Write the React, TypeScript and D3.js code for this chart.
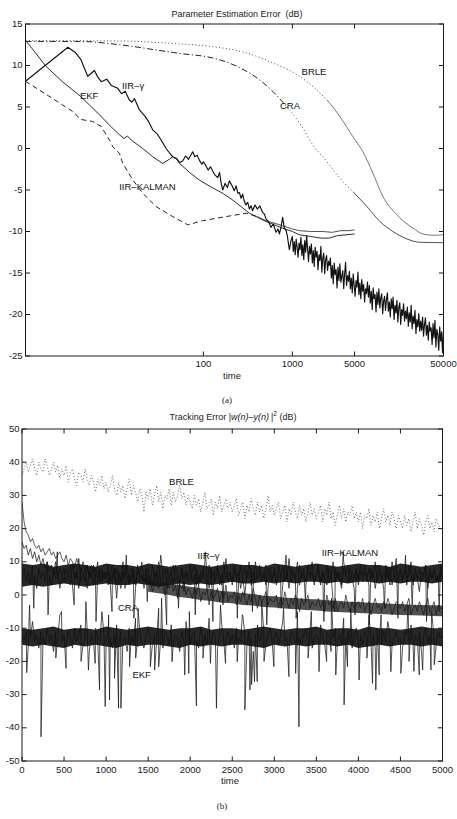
import React from "react";
import * as d3 from "d3";

// ---------- Panel (a): parameter estimation error vs. time (log axis) ----------
const aTimeTicks = [100, 1000, 5000, 50000];
const aTopTicks = [100, 1000, 5000];
const aErrTicks = [15, 10, 5, 0, -5, -10, -15, -20, -25];

// [time, dB]
const ekfA: [number, number][] = [
  [1, 13.05], [1.7, 9.9], [2.6, 8.05], [4.2, 6.25], [6.8, 4.05], [9, 2.7], [11.4, 1.65],
  [12.8, 1.2], [14, 1.5], [15.5, 1.0], [20.8, 0.0], [27, -1.0], [34.9, -1.8], [40, -1.4],
  [45.2, -1.0], [50, -1.3], [54, -1.8], [70, -2.9], [90, -3.8], [120, -4.6], [165, -5.4],
  [213, -6.2], [329, -7.8], [506, -8.8], [778, -9.6], [1000, -10.0], [1200, -10.4],
  [1600, -10.6], [2100, -10.8], [2600, -10.8], [3200, -10.5], [4000, -10.4], [5000, -10.3],
];

const iirKalmanA: [number, number][] = [
  [1, 8.1], [2.0, 6.05], [3.4, 4.45], [4.2, 3.5], [5.7, 3.25], [7.1, 2.65], [8.8, 1.0],
  [9.6, 0.2], [11.4, -0.6], [12.4, -1.8], [16.1, -3.8], [20.8, -5.4], [29.4, -7.0],
  [45.2, -8.2], [66.6, -9.2], [98, -8.7], [180, -8.2], [302, -7.8], [400, -8.2],
  [506, -8.7], [778, -9.3], [1000, -9.7], [1200, -9.9], [1600, -10.0], [2200, -10.0],
  [2800, -10.1], [3500, -9.9], [4200, -9.9], [5000, -9.8],
];

const craA: [number, number][] = [
  [1, 12.9], [4.1, 12.9], [11.5, 12.5], [32.5, 11.8], [54.5, 11.45], [128, 10.9], [238, 9.9],
  [400, 8.5], [606, 6.85], [870, 5.0], [1218, 3.0], [1706, 0.4], [2449, -1.6], [3429, -3.6],
  [4800, -5.2], [6900, -7.0], [9660, -8.8], [13520, -10.0], [19420, -10.9], [27200, -11.3],
  [50000, -11.35],
];

const brleA: [number, number][] = [
  [1, 13.0], [11.5, 12.95], [54.5, 12.6], [128, 12.27], [309, 11.5], [606, 10.3], [1127, 8.9],
  [1706, 7.45], [2449, 5.85], [3429, 3.85], [4800, 1.4], [6220, -0.4], [8060, -3.0],
  [10440, -5.8], [15000, -8.0], [22700, -9.6], [29400, -10.3], [38000, -10.45], [50000, -10.4],
];

// IIR-gamma: early descent as knots, then a long noisy tail
const iirGammaHead: [number, number][] = [
  [1, 8.1], [3, 12.2], [3.6, 11.6], [4.2, 10.7], [5, 8.7], [5.96, 9.4], [6.5, 8.6],
  [7.1, 8.05], [8.2, 8.35], [9.2, 7.6], [10.9, 7.25], [12, 6.6], [13.2, 6.9], [14.7, 5.85],
  [15.7, 5.6], [16.8, 6.0], [19.1, 4.65], [22, 3.9], [24, 3.3], [26.9, 2.25], [30, 1.8],
  [34, 0.9], [38.1, 0.0], [42, -0.6], [45.2, -1.0], [50, -1.2], [54, -1.7], [58.5, -1.5],
  [63, -0.9], [68, -1.3], [75.8, -0.4], [80, -1.0], [85, -0.8], [90, -1.4], [96, -1.9],
  [100, -1.6], [107, -2.1], [113, -2.6], [120, -2.2], [127, -2.7], [135, -3.2], [145, -3.5],
  [152, -2.9], [158, -4.1], [165, -5.0], [175, -4.2], [186, -4.7], [196, -3.9], [210, -4.5],
  [222, -5.1], [233, -4.5], [244, -5.4], [254, -5.3], [265, -6.0], [276, -5.5], [287, -6.3],
  [300, -6.8], [315, -6.5], [329, -7.3], [343, -6.9], [357, -7.5], [380, -6.8], [405, -7.3],
  [430, -6.9], [463, -7.7], [485, -7.9], [506, -8.5], [540, -8.8], [574, -9.5], [610, -9.1],
  [656, -10.1], [690, -9.7], [715, -10.3], [745, -9.5], [778, -8.3], [810, -9.5], [851, -9.9],
  [880, -10.6], [925, -12.2], [960, -11.2],
];
const gammaTailStart = 1000;
const gammaTailEnd = 50000;
const iirGammaTail = [
  -10.6, -12.4, -11.2, -12.8, -10.9, -11.9, -13.1, -11.4, -12.2, -10.7, -12.9, -11.6, -13.4, -11.1, -12.5, -10.5, -12.1, -13.6, -11.8, -12.7,
  -11.5, -13.8, -12.3, -14.2, -11.9, -13.1, -12.4, -14.6, -12.8, -13.5, -11.8, -14.9, -13.2, -12.6, -15.1, -13.4, -12.9, -14.7, -13.6, -14.1,
  -13.2, -15.6, -14.1, -16.3, -13.8, -15.2, -14.6, -16.8, -14.3, -15.9, -13.9, -16.1, -15.4, -14.7, -16.9, -15.1, -13.7, -16.5, -15.3, -16.0,
  -14.8, -16.9, -15.6, -17.4, -15.1, -16.5, -17.8, -15.9, -16.7, -14.9, -17.6, -16.2, -18.1, -15.8, -17.2, -16.4, -18.5, -16.9, -17.5, -16.1,
  -17.9, -16.5, -18.6, -17.2, -19.4, -16.8, -18.1, -17.6, -19.7, -17.3, -18.8, -16.9, -19.2, -18.0, -17.5, -19.9, -18.4, -17.8, -19.5, -18.2,
  -17.4, -19.6, -18.5, -20.3, -18.1, -19.3, -17.9, -20.6, -18.9, -19.8, -18.3, -20.9, -19.1, -18.6, -21.2, -19.4, -20.1, -18.7, -20.8, -19.6,
  -20.5, -19.1, -21.4, -19.8, -20.9, -18.9, -21.7, -20.2, -21.1, -19.5, -22.3, -20.6, -21.5, -19.9, -22.0, -20.8, -21.9, -20.3, -22.6, -21.2,
  -20.4, -22.5, -21.3, -23.1, -20.9, -22.0, -21.6, -23.6, -21.1, -22.8, -20.7, -23.9, -21.8, -22.4, -24.3, -21.5, -23.2, -22.1, -24.6, -22.0,
];

// ---------- Panel (b): tracking error vs. time ----------
const bTimeTicks = [0, 500, 1000, 1500, 2000, 2500, 3000, 3500, 4000, 4500, 5000];
const bErrTicks = [50, 40, 30, 20, 10, 0, -10, -20, -30, -40, -50];
const bandStep = 25; // trace samples every 25 time units, 0..5000
const coreStep = 125; // dense-core envelopes every 125 time units

const brleB = [
  36, 38, 40, 37, 39, 41, 38, 36, 40, 38, 37, 41, 39, 36, 38, 40, 37, 39, 35, 38,
  36, 39, 34, 37, 38, 35, 33, 37, 36, 34, 38, 35, 33, 36, 34, 31, 35, 33, 36, 32,
  34, 31, 33, 36, 32, 30, 34, 31, 33, 29, 32, 35, 30, 33, 31, 28, 32, 30, 25, 31,
  29, 32, 27, 30, 33, 28, 31, 26, 30, 29, 32, 27, 31, 28, 30, 33, 29, 31, 27, 30,
  28, 26, 30, 27, 29, 25, 28, 31, 26, 27, 29, 24, 28, 26, 30, 25, 27, 29, 26, 28,
  25, 27, 29, 24, 26, 28, 23, 27, 25, 29, 26, 24, 28, 25, 27, 23, 26, 30, 25, 27,
  24, 26, 28, 23, 25, 27, 22, 26, 24, 28, 25, 23, 27, 24, 26, 22, 25, 28, 24, 26,
  23, 25, 27, 22, 26, 24, 28, 23, 25, 21, 24, 27, 23, 26, 22, 25, 24, 27, 23, 25,
  22, 25, 20, 24, 23, 26, 21, 24, 22, 25, 20, 23, 26, 22, 24, 21, 25, 23, 20, 24,
  22, 20, 24, 21, 23, 19, 22, 25, 20, 23, 21, 18, 22, 24, 20, 22, 19, 23, 21, 20,
  20,
];

const craB = [
  28, 22, 19, 18, 16, 17, 15, 14, 15, 13, 14, 12, 13, 14, 12, 13, 11, 12, 13, 11,
  10, 12, 9, 11, 10, 8, 11, 9, 7, 10, 8, 9, 6, 9, 7, 8, 5, 7, 8, 6,
  5, 7, 4, 6, 8, 3, 6, 5, 7, 2, 5, 6, 4, 7, 3, 5, 4, 6, 2, 5,
  3, 5, 1, 4, 6, 2, 4, 3, 0, 4, 2, 5, 1, 3, -1, 3, 2, 4, 0, 2,
  1, -1, 2, 0, 3, -2, 1, 0, 2, -3, 1, -1, 0, 2, -2, 1, -1, 3, -2, 0,
  -1, 1, -3, 0, -2, 1, -1, -3, 0, -2, 2, -1, -4, 0, -2, -1, 1, -3, -1, -2,
  -2, 0, -4, -1, -3, 1, -2, -4, -1, -3, 0, -2, -5, -1, -3, -2, 0, -4, -2, -3,
  -3, -1, -4, -2, -5, 0, -3, -2, -4, -1, -5, -3, -2, -4, 0, -3, -5, -2, -4, -3,
  -2, -4, -1, -5, -3, -2, -6, -3, -1, -4, -3, -5, -2, -4, -1, -3, -6, -4, -2, -3,
  -4, -2, -5, -3, -1, -6, -4, -3, -5, -2, -4, -6, -3, -1, -5, -4, -2, -6, -3, -4,
  -4,
];

const iirKalmanB = [
  16, 14, 15, 12, 14, 11, 13, 10, 12, 9, 11, 8, 10, 7, 9, 6, 10, 5, 8, 6,
  4, 8, 6, 3, 9, 5, 7, 2, 8, 6, 4, 9, 5, 7, 3, 6, 10, 4, 7, 5,
  7, 3, 6, 9, 4, 8, 5, 2, 7, 6, 9, 4, 5, 8, 3, 7, 6, 10, 4, 5,
  8, 5, 3, 7, 6, 10, 4, 6, 8, 2, 5, 7, 9, 4, 6, 3, 8, 5, 7, 4,
  5, 7, 9, 3, 6, 4, 8, 6, 2, 9, 5, 7, 4, 8, 6, 3, 10, 5, 7, 6,
  4, 9, 5, 7, 2, 6, 8, 5, 10, 3, 7, 4, 6, 9, 5, 7, 3, 8, 6, 4,
  8, 3, 6, 5, 9, 4, 7, 2, 8, 6, 5, 10, 3, 7, 6, 4, 9, 5, 7, 3,
  6, 9, 4, 7, 5, 3, 8, 6, 10, 4, 7, 5, 2, 8, 6, 9, 4, 7, 5, 8,
  3, 7, 6, 9, 4, 8, 5, 7, 2, 6, 9, 4, 7, 5, 8, 3, 10, 6, 4, 7,
  7, 4, 8, 5, 6, 10, 3, 7, 5, 8, 4, 6, 9, 2, 7, 5, 8, 6, 4, 7,
  5,
];

const iirGammaB = [
  5, 8, 4, 7, 3, 9, 6, 2, 8, 5, 7, 4, 10, 6, 3, 8, 5, 7, 2, 6,
  8, 4, 6, 9, 3, 7, 5, 11, 4, 6, 8, 2, 7, 5, 9, 3, 6, 8, 4, 7,
  5, 9, 3, 6, 8, -1, 7, 4, 10, 5, 6, 3, 8, 7, 2, 9, 5, 6, 4, 8,
  6, 3, 9, 5, 7, 4, 12, 6, 2, 8, 5, 7, 3, 9, 6, 4, 8, 1, 7, 5,
  9, 4, 6, 8, 3, 7, 5, 10, 6, 2, 8, 4, 7, 9, 3, 6, 5, 11, 4, 7,
  3, 8, 6, 4, 9, 5, 0, 7, 6, 8, 3, 10, 5, 7, 4, 6, 9, 2, 8, 5,
  7, 4, 9, 6, 3, 8, 5, 11, 4, 7, 6, 2, 9, 5, 8, 3, 7, 6, 10, 4,
  6, 8, 3, 7, 5, 9, 4, 6, -2, 8, 5, 7, 3, 10, 6, 4, 8, 5, 2, 7,
  5, 9, 4, 7, 6, 3, 8, 5, 10, 4, 7, 6, 2, 9, 5, 8, 3, 6, 11, 4,
  8, 5, 7, 3, 9, 6, 4, 8, 5, 1, 7, 6, 9, 3, 8, 5, 7, 4, 6, 9,
  6,
];
// isolated excursions of the IIR-gamma trace [time, dB]
const iirGammaSpikesB: [number, number][] = [
  [140, -4], [310, -6], [420, 13], [620, -3], [880, -8], [1070, -5], [1240, 12], [1330, -7],
  [1490, -2], [1720, -9], [1860, -4], [2060, -6], [2180, 13], [2270, -8], [2390, -3],
  [2560, -7], [2740, -5], [2910, -9], [3080, -4], [3140, 12], [3260, -7], [3370, -2],
  [3590, -8], [3720, -5], [3820, 13], [3960, -6], [4130, -9], [4310, -4], [4470, -7],
  [4560, 12], [4640, -3], [4810, -8], [4960, -5],
];

const ekfB = [
  -12, -14, -11, -15, -13, -8, -14, -12, -16, -11, -13, -15, -10, -14, -12, -17, -11, -13, -6, -14,
  -12, -15, -11, -13, -16, -10, -14, -12, -9, -15, -13, -11, -17, -12, -14, -10, -13, -15, -5, -12,
  -14, -11, -13, -16, -12, -9, -15, -11, -14, -13, -17, -10, -12, -15, -7, -13, -11, -14, -16, -12,
  -10, -13, -15, -12, -14, -4, -13, -16, -11, -12, -15, -9, -14, -12, -13, -17, -11, -14, -8, -13,
  -15, -12, -11, -14, -16, -10, -13, -12, -15, -7, -14, -11, -13, -16, -12, -9, -14, -13, -11, -15,
  -12, -16, -10, -13, -14, -6, -12, -15, -11, -13, -17, -12, -9, -14, -13, -11, -15, -12, -10, -14,
  -13, -11, -15, -12, -8, -14, -13, -16, -11, -12, -14, -5, -13, -15, -12, -10, -14, -11, -16, -13,
  -12, -14, -9, -13, -15, -11, -12, -17, -13, -10, -14, -12, -15, -7, -13, -11, -14, -16, -12, -10,
  -14, -12, -15, -11, -13, -6, -14, -12, -16, -10, -13, -15, -11, -14, -8, -12, -15, -13, -11, -14,
  -13, -16, -11, -12, -14, -9, -15, -12, -13, -11, -17, -13, -10, -14, -12, -6, -13, -15, -11, -13,
  -12,
];
// sharp dropouts and upward excursions of the EKF trace [time, dB]
const ekfSpikesB: [number, number][] = [
  [56, -23.4], [90, -3], [226, -42.7], [402, -19], [470, -5], [524, -22.1], [702, -20],
  [760, -2], [790, -22.6], [870, -20.6], [922, -28.6], [989, -33.6], [1030, -6], [1041, -31.6],
  [1100, -25.1], [1148, -34.1], [1176, -34.1], [1279, -21.6], [1352, -19], [1380, -4],
  [1526, -21.6], [1577, -22.6], [1625, -21.6], [1660, -1], [1784, -20.1], [1935, -24.1],
  [1983, -23.6], [1990, -5], [2074, -33.4], [2152, -19], [2241, -20.6], [2312, -34.1],
  [2360, -3], [2420, -20.6], [2559, -20.1], [2620, -6], [2650, -34.6], [2710, -28.6],
  [2730, -27], [2765, -26.1], [2797, -26.1], [2850, -2], [2878, -20], [2995, -21.6],
  [3110, -4], [3174, -24.6], [3254, -23.6], [3293, -39.7], [3402, -19], [3440, -5],
  [3532, -23.1], [3622, -20], [3680, -1], [3731, -24.1], [3830, -33.1], [3870, -21.6],
  [3910, -4], [4008, -25.6], [4102, -19], [4168, -26.6], [4207, -28.6], [4247, -24.1],
  [4270, -6], [4386, -23.1], [4505, -23.6], [4590, -3], [4602, -20], [4660, -23],
  [4724, -24.1], [4764, -22.6], [4863, -22.6], [4870, -5], [4902, -21],
];

// dense cores where the traces pile up (upper / lower edge, dB), every 125 time units
const iirCoreHi = [
  9.5, 9, 9.5, 8.5, 9, 9.5, 9, 8.5, 9.5, 9, 9, 8.5, 9.5, 9, 8.5, 9, 9.5, 9, 8.5, 9, 9.5,
  9, 9, 8.5, 9.5, 9, 8.5, 9, 9.5, 9, 8.5, 9, 9.5, 9, 9, 8.5, 9.5, 9, 8.5, 9, 9.5,
];
const iirCoreLo = [
  2.5, 3, 2.5, 3, 3.5, 3, 2.5, 3, 3.5, 3, 3, 3.5, 3, 2.5, 3, 3.5, 3, 3.5, 3, 3.5, 4,
  3.5, 3.5, 4, 3.5, 4, 3.5, 4, 4, 3.5, 4, 3.5, 4, 4, 3.5, 4, 3.5, 4, 4, 3.5, 4,
];
const ekfCoreHi = [
  -10, -10.5, -10, -9.5, -10.5, -10, -10, -10.5, -9.5, -10, -10.5, -10, -9.5, -10, -10.5, -10, -10, -9.5, -10.5, -10, -10,
  -10.5, -10, -9.5, -10, -10.5, -10, -10, -9.5, -10.5, -10, -10, -10.5, -9.5, -10, -10, -10.5, -10, -9.5, -10, -10,
];
const ekfCoreLo = [
  -15, -15.5, -15, -15.5, -16, -15, -15.5, -15, -15.5, -16, -15, -15.5, -15, -15, -15.5, -16, -15, -15.5, -15, -15.5, -15,
  -15, -15.5, -16, -15, -15.5, -15, -15.5, -15, -15, -15.5, -15, -16, -15.5, -15, -15.5, -15, -15, -15.5, -15, -15.5,
];
// CRA separates from the upper band after t = 1500
const craCoreStart = 1500;
const craCoreHi = [
  4.5, 4, 3.5, 3, 2.5, 2, 1.8, 1.2, 1, 0.5, 0.3, -0.2, -0.4, -0.8, -0.9, -1.2, -1.3, -1.6, -1.7, -2, -2.1,
  -2.3, -2.4, -2.6, -2.7, -2.9, -3, -3.1, -3.2,
];
const craCoreLo = [
  1, 0.5, 0, -0.6, -1, -1.5, -1.8, -2.3, -2.5, -3, -3.2, -3.6, -3.8, -4.1, -4.3, -4.5, -4.7, -5, -5.1, -5.3, -5.4,
  -5.6, -5.7, -5.9, -6, -6.1, -6.2, -6.3, -6.4,
];

// ---------- layout ----------
const W = 457;
const H = 819;
const SANS = "'Liberation Sans', Arial, Helvetica, sans-serif";
const SERIF = "'Liberation Serif', 'DejaVu Serif', serif";
const INK = "#1a1a1a";
const frameA = { left: 25.5, right: 443.5, top: 24, bottom: 356 };
const frameB = { left: 22, right: 442.5, top: 429, bottom: 761 };
const TICK = 4.5;

type Pt = [number, number];

function band(values: number[], spikes: Pt[] = []): Pt[] {
  const pts: Pt[] = values.map((v, i) => [i * bandStep, v]);
  return pts.concat(spikes).sort((a, b) => a[0] - b[0]);
}

function core(hi: number[], lo: number[], t0 = 0): [number, number, number][] {
  return hi.map((h, i) => [t0 + i * coreStep, lo[i], h]);
}

function sliceByTime(data: Pt[], t0: number, t1: number): Pt[] {
  return data.filter(([t]) => t >= t0 && t <= t1);
}

export default function App() {
  // scales for panel (a)
  const xa = d3.scaleLog().domain([1, 50000]).range([frameA.left, frameA.right]);
  const ya = d3.scaleLinear().domain([-25, 15]).range([frameA.bottom, frameA.top]);
  const lineA = d3
    .line<Pt>()
    .x((d) => xa(d[0]))
    .y((d) => ya(d[1]));
  const lineACurve = d3
    .line<Pt>()
    .x((d) => xa(d[0]))
    .y((d) => ya(d[1]))
    .curve(d3.curveMonotoneX);

  // IIR-gamma tail sampled on a log-spaced time grid
  const n = iirGammaTail.length;
  const tailPts: Pt[] = iirGammaTail.map((v, i) => [
    gammaTailStart * Math.pow(gammaTailEnd / gammaTailStart, i / (n - 1)),
    v,
  ]);
  const iirGammaA: Pt[] = [...iirGammaHead, ...tailPts];

  // scales for panel (b)
  const xb = d3.scaleLinear().domain([0, 5000]).range([frameB.left, frameB.right]);
  const yb = d3.scaleLinear().domain([-50, 50]).range([frameB.bottom, frameB.top]);
  const lineB = d3
    .line<Pt>()
    .x((d) => xb(d[0]))
    .y((d) => yb(d[1]));
  const areaB = d3
    .area<[number, number, number]>()
    .x((d) => xb(d[0]))
    .y0((d) => yb(d[1]))
    .y1((d) => yb(d[2]));

  const brleBPts = band(brleB);
  const craBPts = band(craB);
  const kalBPts = band(iirKalmanB);
  const gamBPts = band(iirGammaB, iirGammaSpikesB);
  const ekfBPts = band(ekfB, ekfSpikesB);

  const frame = (f: typeof frameA) => (
    <rect
      x={f.left}
      y={f.top}
      width={f.right - f.left}
      height={f.bottom - f.top}
      fill="none"
      stroke={INK}
      strokeWidth={1}
    />
  );

  const labelStyle = { fontFamily: SANS, fontSize: 9.5, fill: INK } as const;
  const seriesLabel = { fontFamily: SANS, fontSize: 9.5, fill: "#111" } as const;

  return (
    <svg
      width={W}
      height={H}
      viewBox={`0 0 ${W} ${H}`}
      style={{ position: "absolute", left: 0, top: 0, background: "#fff" }}
    >
      <defs>
        <clipPath id="clipA">
          <rect x={frameA.left} y={frameA.top} width={frameA.right - frameA.left} height={frameA.bottom - frameA.top} />
        </clipPath>
        <clipPath id="clipB">
          <rect x={frameB.left} y={frameB.top} width={frameB.right - frameB.left} height={frameB.bottom - frameB.top} />
        </clipPath>
      </defs>
      <rect x={0} y={0} width={W} height={H} fill="#fff" />

      {/* ================= panel (a) ================= */}
      <text x={237} y={15} textAnchor="middle" dominantBaseline="middle" style={{ ...labelStyle, fontSize: 9 }}>
        Parameter Estimation Error{"\u00a0\u00a0"}(dB)
      </text>
      <g clipPath="url(#clipA)" fill="none">
        {/* BRLE: dotted, then a thin continuous tail */}
        <path d={lineACurve(sliceByTime(brleA, 1, 2449)) || ""} stroke="#333" strokeWidth={0.9} strokeDasharray="1 2.4" />
        <path d={lineACurve(sliceByTime(brleA, 2449, 50000)) || ""} stroke="#555" strokeWidth={0.8} />
        {/* CRA: dash-dot, dotted mid-section, thin continuous tail */}
        <path d={lineACurve(sliceByTime(craA, 1, 870)) || ""} stroke="#222" strokeWidth={1} strokeDasharray="6 2.5 1.2 2.5" />
        <path d={lineACurve(sliceByTime(craA, 870, 4800)) || ""} stroke="#333" strokeWidth={0.9} strokeDasharray="1 2.6" />
        <path d={lineACurve(sliceByTime(craA, 4800, 50000)) || ""} stroke="#333" strokeWidth={0.85} />
        {/* IIR-KALMAN: dashed, then continuous after merging */}
        <path d={lineA(sliceByTime(iirKalmanA, 1, 400)) || ""} stroke="#222" strokeWidth={1} strokeDasharray="5 3.5" />
        <path d={lineA(sliceByTime(iirKalmanA, 400, 5000)) || ""} stroke="#333" strokeWidth={0.85} />
        {/* EKF */}
        <path d={lineA(ekfA) || ""} stroke="#222" strokeWidth={0.95} />
        {/* IIR-gamma */}
        <path d={lineA(iirGammaA) || ""} stroke="#111" strokeWidth={1.15} strokeLinejoin="round" />
      </g>
      {frame(frameA)}
      {aErrTicks.map((v) => (
        <g key={`ya${v}`}>
          <line x1={frameA.left} x2={frameA.left + TICK} y1={ya(v)} y2={ya(v)} stroke={INK} />
          <line x1={frameA.right} x2={frameA.right - TICK} y1={ya(v)} y2={ya(v)} stroke={INK} />
          <text x={frameA.left - 3} y={ya(v)} textAnchor="end" dominantBaseline="middle" style={labelStyle}>
            {v}
          </text>
        </g>
      ))}
      {aTimeTicks.map((t) => (
        <g key={`xa${t}`}>
          <line x1={xa(t)} x2={xa(t)} y1={frameA.bottom} y2={frameA.bottom - TICK} stroke={INK} />
          <text x={xa(t)} y={frameA.bottom + 8.5} textAnchor="middle" dominantBaseline="middle" style={labelStyle}>
            {t}
          </text>
        </g>
      ))}
      {aTopTicks.map((t) => (
        <line key={`xat${t}`} x1={xa(t)} x2={xa(t)} y1={frameA.top} y2={frameA.top + TICK} stroke={INK} />
      ))}
      <text x={232} y={376} textAnchor="middle" dominantBaseline="middle" style={labelStyle}>
        time
      </text>
      <text x={xa(1750)} y={ya(9.1)} textAnchor="middle" dominantBaseline="middle" style={seriesLabel}>BRLE</text>
      <text x={xa(940)} y={ya(5.1)} textAnchor="middle" dominantBaseline="middle" style={seriesLabel}>CRA</text>
      <text x={xa(5.2)} y={ya(6.27)} textAnchor="middle" dominantBaseline="middle" style={seriesLabel}>EKF</text>
      <text x={xa(16.2)} y={ya(7.53)} textAnchor="middle" dominantBaseline="middle" style={seriesLabel}>IIR–γ</text>
      <text x={xa(23.5)} y={ya(-4.7)} textAnchor="middle" dominantBaseline="middle" style={seriesLabel}>IIR–KALMAN</text>
      <text x={227} y={401} textAnchor="middle" dominantBaseline="middle" style={{ fontFamily: SERIF, fontSize: 9, fill: INK }}>
        (a)
      </text>

      {/* ================= panel (b) ================= */}
      <text x={233} y={418} textAnchor="middle" dominantBaseline="middle" style={{ ...labelStyle, fontSize: 9 }}>
        Tracking Error |<tspan fontStyle="italic">w(n)</tspan>–<tspan fontStyle="italic">y(n)</tspan>
        {"\u2009"}|<tspan dy={-4} fontSize={6.5}>2</tspan>
        <tspan dy={4}> (dB)</tspan>
      </text>
      <g clipPath="url(#clipB)">
        <path d={lineB(brleBPts) || ""} fill="none" stroke="#444" strokeWidth={0.85} strokeDasharray="0.9 2.2" />
        <path d={lineB(craBPts) || ""} fill="none" stroke="#2a2a2a" strokeWidth={0.75} />
        <path d={lineB(kalBPts) || ""} fill="none" stroke="#1a1a1a" strokeWidth={0.75} />
        <path d={lineB(gamBPts) || ""} fill="none" stroke="#1a1a1a" strokeWidth={0.75} />
        <path d={lineB(ekfBPts) || ""} fill="none" stroke="#1a1a1a" strokeWidth={0.75} />
        <path d={areaB(core(iirCoreHi, iirCoreLo)) || ""} fill="#101010" fillOpacity={0.9} />
        <path d={areaB(core(craCoreHi, craCoreLo, craCoreStart)) || ""} fill="#161616" fillOpacity={0.75} />
        <path d={areaB(core(ekfCoreHi, ekfCoreLo)) || ""} fill="#101010" fillOpacity={0.9} />
      </g>
      {frame(frameB)}
      {bErrTicks.map((v) => (
        <g key={`yb${v}`}>
          <line x1={frameB.left} x2={frameB.left + TICK} y1={yb(v)} y2={yb(v)} stroke={INK} />
          <line x1={frameB.right} x2={frameB.right - TICK} y1={yb(v)} y2={yb(v)} stroke={INK} />
          <text x={frameB.left - 2.5} y={yb(v)} textAnchor="end" dominantBaseline="middle" style={labelStyle}>
            {v}
          </text>
        </g>
      ))}
      {bTimeTicks.map((t) => (
        <g key={`xb${t}`}>
          <line x1={xb(t)} x2={xb(t)} y1={frameB.bottom} y2={frameB.bottom - TICK} stroke={INK} />
          <line x1={xb(t)} x2={xb(t)} y1={frameB.top} y2={frameB.top + TICK} stroke={INK} />
          <text x={xb(t)} y={frameB.bottom + 9} textAnchor="middle" dominantBaseline="middle" style={labelStyle}>
            {t}
          </text>
        </g>
      ))}
      <text x={230} y={781} textAnchor="middle" dominantBaseline="middle" style={labelStyle}>
        time
      </text>
      <text x={xb(1897)} y={yb(33.9)} textAnchor="middle" dominantBaseline="middle" style={seriesLabel}>BRLE</text>
      <text x={xb(2218)} y={yb(11.75)} textAnchor="middle" dominantBaseline="middle" style={seriesLabel}>IIR–γ</text>
      <text x={xb(3900)} y={yb(12.5)} textAnchor="middle" dominantBaseline="middle" style={seriesLabel}>IIR–KALMAN</text>
      <text x={xb(1260)} y={yb(-4.1)} textAnchor="middle" dominantBaseline="middle" style={seriesLabel}>CRA</text>
      <text x={xb(1423)} y={yb(-24.1)} textAnchor="middle" dominantBaseline="middle" style={seriesLabel}>EKF</text>
      <text x={222} y={807} textAnchor="middle" dominantBaseline="middle" style={{ fontFamily: SERIF, fontSize: 9, fill: INK }}>
        (b)
      </text>
    </svg>
  );
}
